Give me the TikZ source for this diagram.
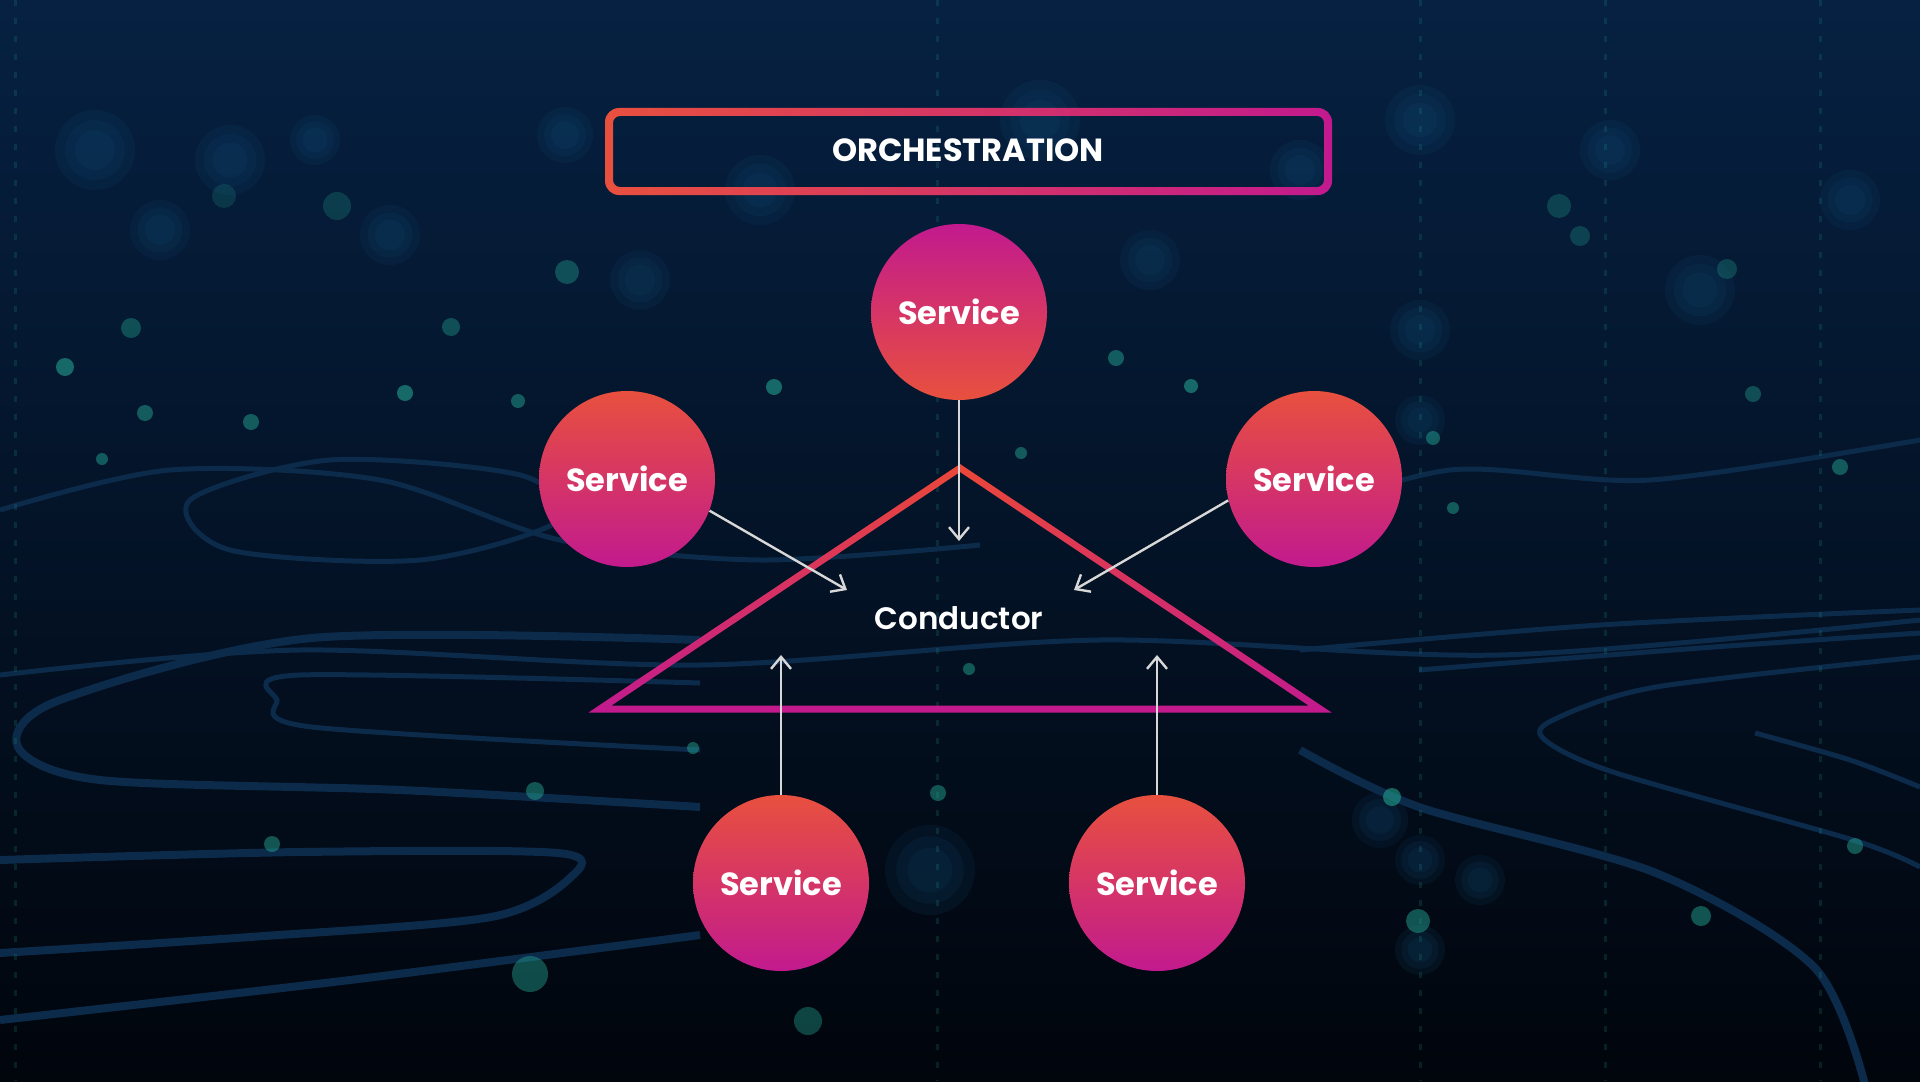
\documentclass[tikz,border=0pt]{standalone}
\usepackage{fontspec}
\setmainfont{Poppins}
\newfontfamily\popbold{Poppins Bold}
\newfontfamily\popsemi{Poppins SemiBold}
\usetikzlibrary{arrows.meta}
\definecolor{bgtop}{HTML}{062142}
\definecolor{bgmid}{HTML}{020C1A}
\definecolor{bgbot}{HTML}{01050C}
\definecolor{hotorange}{HTML}{E8503E}
\definecolor{hotmagenta}{HTML}{C21A8E}
\definecolor{arrowgray}{HTML}{D8D8D8}
\definecolor{dotteal}{HTML}{22A08E}
\definecolor{blurblue}{HTML}{12507A}
\definecolor{waveblue}{HTML}{0C2A4A}

\begin{document}
\begin{tikzpicture}[x=0.5pt, y=-0.5pt,
    svc/.style={circle, minimum size=88pt, inner sep=0pt, top color=hotorange, bottom color=hotmagenta, text=white, font=\popbold\fontsize{16}{19}\selectfont},
    svcflip/.style={svc, top color=hotmagenta, bottom color=hotorange},
    flow/.style={draw=arrowgray, line width=1.2pt, -{Straight Barb[length=6pt, width=10pt, line width=1.2pt]}},
    wave/.style={draw=waveblue, line width=2.5pt},
    thickwave/.style={draw=waveblue, line width=4pt},
    streak/.style={draw=dotteal, line width=1.5pt, opacity=0.18, dash pattern=on 3pt off 6pt}]
    \useasboundingbox (0,0) rectangle (1920,1081);
    \shade[top color=bgtop, middle color=bgmid, bottom color=bgbot] (0,0) rectangle (1920,1081);

    % background
    \foreach \bx/\by/\br in {95/150/40, 230/160/35, 160/230/30, 315/140/25, 390/235/30, 565/135/28, 640/280/30, 760/190/35,
        1040/120/40, 1150/260/30, 1300/170/30, 1420/120/35, 1420/330/30, 1420/420/25, 1610/150/30, 1700/290/35, 1850/200/30,
        1420/860/25, 1420/950/25, 1480/880/25, 1380/820/28, 930/870/45}
        \foreach \bs in {1, 0.75, 0.5}
            \fill[blurblue, opacity=0.13] (\bx,\by) circle[radius=\bs*\br];
    \draw[wave] plot[smooth] coordinates {(0,510) (170,470) (380,480) (560,540) (760,560) (980,545)};
    \draw[wave] plot[smooth cycle] coordinates {(190,500) (330,460) (520,475) (560,520) (420,560) (230,550)};
    \draw[wave] plot[smooth] coordinates {(0,675) (300,650) (700,665) (1100,640) (1500,655) (1920,620)};
    \draw[thickwave] plot[smooth] coordinates {(700,640) (312,638) (60,700) (18,747) (100,780) (400,790) (700,807)};
    \draw[wave] plot[smooth] coordinates {(700,683) (300,675) (277,700) (312,727) (700,750)};
    \draw[thickwave] plot[smooth] coordinates {(0,860) (300,852) (558,853) (571,877) (491,917) (250,937) (0,953)};
    \draw[thickwave] plot[smooth] coordinates {(0,1020) (350,980) (700,935)};
    \draw[thickwave] plot[smooth] coordinates {(1300,750) (1419,807) (1656,873) (1814,967) (1865,1085)};
    \draw[wave] plot[smooth] coordinates {(1920,657) (1656,687) (1553,720) (1545,740) (1616,773) (1853,840) (1920,867)};
    \draw[wave] plot[smooth] coordinates {(1300,650) (1600,625) (1920,610)};
    \draw[wave] plot[smooth] coordinates {(1419,670) (1700,648) (1920,633)};
    \draw[wave] plot[smooth] coordinates {(1755,733) (1850,760) (1920,787)};
    \draw[wave] plot[smooth] coordinates {(1280,520) (1450,470) (1650,480) (1920,440)};
    \foreach \sx in {15, 937, 1420, 1605, 1820}
        \draw[streak] (\sx,0) -- (\sx,1081);
    \foreach \dx/\dy/\dr/\dop in {65/367/9/0.6, 145/413/8/0.5, 251/422/8/0.5, 102/459/6/0.5, 567/272/12/0.4, 405/393/8/0.6,
        451/327/9/0.4, 518/401/7/0.5, 774/387/8/0.6, 1116/358/8/0.5, 1191/386/7/0.6, 1021/453/6/0.5, 1433/438/7/0.5,
        1453/508/6/0.5, 1840/467/8/0.5, 1753/394/8/0.4, 1559/206/12/0.3, 1727/269/10/0.3, 535/791/9/0.5, 272/844/8/0.5,
        693/748/6/0.5, 938/793/8/0.5, 969/669/6/0.5, 1392/797/9/0.6, 1418/921/12/0.5, 1701/916/10/0.5, 1855/846/8/0.5,
        530/974/18/0.45, 808/1021/14/0.4, 131/328/10/0.4, 337/206/14/0.25, 224/196/12/0.2, 1580/236/10/0.3}
        \fill[dotteal, opacity=\dop] (\dx,\dy) circle[radius=\dr];

    % title
    \shade[left color=hotorange, right color=hotmagenta, even odd rule]
        [rounded corners=7pt] (605,108) rectangle (1332,195)
        [rounded corners=3.5pt] (613,116) rectangle (1324,187);
    \node[text=white, font=\popbold\fontsize{16}{19}\selectfont] (title) at (968,150) {ORCHESTRATION};

    % conductor
    \shade[top color=hotorange!90!red, bottom color=hotmagenta, even odd rule]
        (960,464) -- (588.5,712.5) -- (1331.5,712.5) -- cycle
        (960,472) -- (611.5,705.5) -- (1308.5,705.5) -- cycle;
    \node[text=white, font=\popsemi\fontsize{15.5}{19}\selectfont] (conductor) at (959,618) {Conductor};

    \node[svcflip] (svctop) at (959,312) {Service};
    \node[svc] (svcleft) at (627,479) {Service};
    \node[svc] (svcright) at (1314,479) {Service};
    \node[svc] (svcbl) at (781,883) {Service};
    \node[svc] (svcbr) at (1157,883) {Service};

    \coordinate (intop) at (959,541);
    \coordinate (inleft) at (847,590);
    \coordinate (inright) at (1074,590);
    \coordinate (inbl) at (781,655);
    \coordinate (inbr) at (1157,655);

    \draw[flow] (svctop) -- (intop);
    \draw[flow] (svcleft.339) -- (inleft);
    \draw[flow] (svcright.194) -- (inright);
    \draw[flow] (svcbl) -- (inbl);
    \draw[flow] (svcbr) -- (inbr);
\end{tikzpicture}
\end{document}
